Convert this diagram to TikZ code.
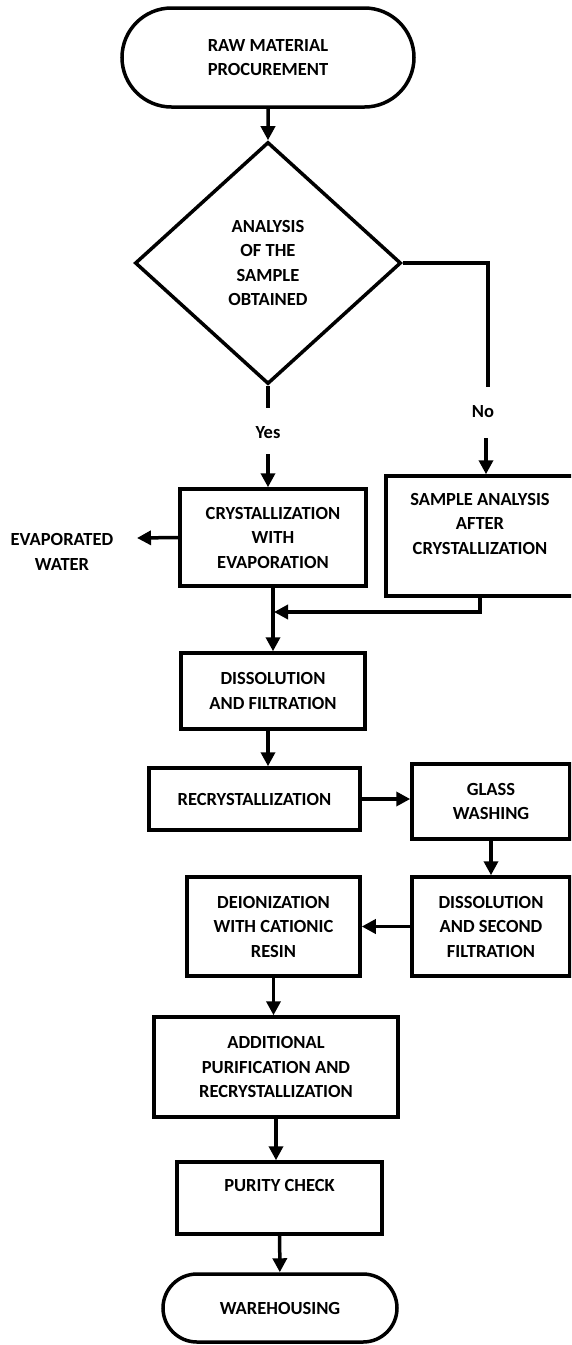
\documentclass[tikz,border=0pt]{standalone}
\usepackage{fontspec}
\setmainfont{Carlito}
\usepackage{tikz}
\usetikzlibrary{shapes,shapes.geometric,shapes.misc,arrows,arrows.meta,calc,positioning}

\begin{document}
\begin{tikzpicture}[x=1pt,y=-1pt]

        \tikzstyle{every node}=[font=\bfseries\fontsize{18.5}{24.5}\selectfont, align=center]
        \tikzstyle{process}=[draw, line width=3.5pt, rectangle, inner sep=0pt]
        \tikzstyle{terminal}=[draw, line width=3.5pt, rounded rectangle, inner sep=0pt]
        \tikzstyle{decision}=[draw, line width=3.5pt, diamond, inner sep=0pt]
        \tikzstyle{flow}=[line width=3.5pt, ->, >={Triangle[length=14pt,width=14pt]}]

        \clip (0,0) rectangle (571,1345);

        \node[terminal, minimum width=292pt, minimum height=99pt] (start) at (268,57.5) {RAW MATERIAL\\PROCUREMENT};
        \node[decision, minimum width=266pt, minimum height=242pt] (dec) at (268,263) {ANALYSIS\\OF THE\\SAMPLE\\OBTAINED};
        \node (yes) at (268,433) {Yes};
        \node (no) at (483,412) {No};
        \node[process, minimum width=186pt, minimum height=97pt] (cryst) at (273,537.5) {CRYSTALLIZATION\\WITH\\EVAPORATION};
        \node (evap) at (62,552) {EVAPORATED\\WATER};
        \node[process, minimum width=188pt, minimum height=120pt] (sample) at (480,536) {SAMPLE ANALYSIS\\AFTER\\CRYSTALLIZATION\\~};
        \node[process, minimum width=184pt, minimum height=76pt] (diss) at (273,691) {DISSOLUTION\\AND FILTRATION};
        \node[process, minimum width=211pt, minimum height=62pt] (recr) at (254.5,799) {RECRYSTALLIZATION};
        \node[process, minimum width=158pt, minimum height=75pt] (glass) at (491,801.5) {GLASS\\WASHING};
        \node[process, minimum width=158pt, minimum height=99pt] (diss2) at (491,926.5) {DISSOLUTION\\AND SECOND\\FILTRATION};
        \node[process, minimum width=173pt, minimum height=99pt] (deion) at (273.5,926.5) {DEIONIZATION\\WITH CATIONIC\\RESIN};
        \node[process, minimum width=244pt, minimum height=100pt] (addl) at (276,1067) {ADDITIONAL\\PURIFICATION AND\\RECRYSTALLIZATION};
        \node[process, minimum width=205pt, minimum height=72pt] (purity) at (279.5,1198) {PURITY CHECK\\~};
        \node[terminal, minimum width=234pt, minimum height=68pt] (ware) at (280,1308) {WAREHOUSING};

        \coordinate (yesa) at (268,408);
        \coordinate (yesb) at (268,454);
        \coordinate (noa) at (488,387);
        \coordinate (nob) at (486,438);
        \coordinate (evapt) at (137,538);
        \coordinate (mrg) at (274,612);

        \draw[flow] (start) -- (dec);
        \draw[line width=3.5pt] (dec.south) -- (yesa);
        \draw[flow] (yesb) -- (yesb |- cryst.north);
        \draw[line width=3.5pt] (dec.east) -| (noa);
        \draw[flow] (nob) -- (nob |- sample.north);
        \draw[flow] (cryst.west) -- (evapt);
        \draw[flow] (cryst.south) -- (diss.north);
        \draw[flow] (sample.south) |- (mrg);
        \draw[flow] (diss.south -| yesb) -- (recr.north -| yesb);
        \draw[flow] (recr.east) -- (recr.east -| glass.west);
        \draw[flow] (glass) -- (diss2);
        \draw[flow] (diss2) -- (deion);
        \draw[flow] (deion.south) -- (deion.south |- addl.north);
        \draw[flow] (addl.south) -- (addl.south |- purity.north);
        \draw[flow] (purity) -- (ware);

\end{tikzpicture}
\end{document}
